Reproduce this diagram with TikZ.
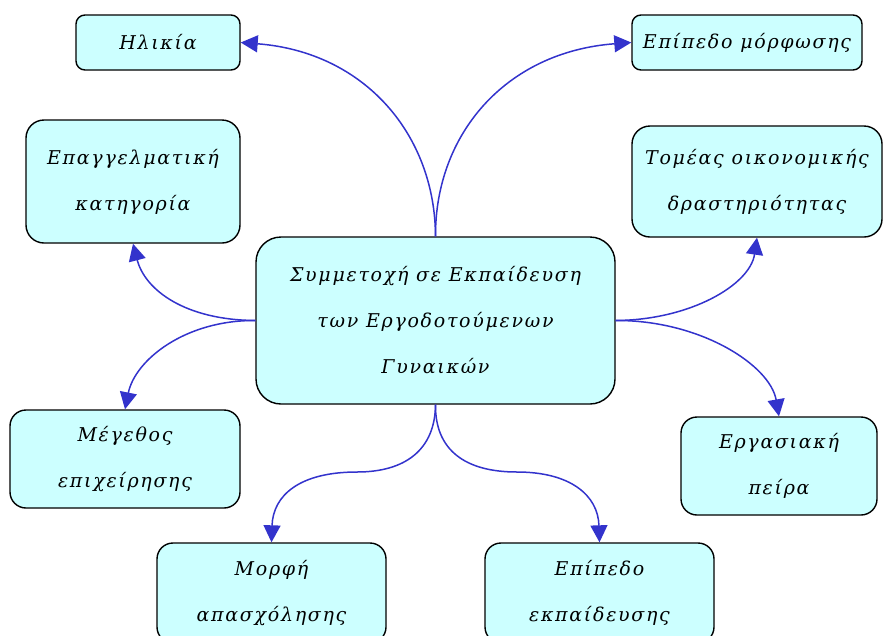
\documentclass[tikz,border=0pt]{standalone}
\usepackage{fontspec}
\newfontfamily\grfont[LetterSpace=9]{DejaVu Serif}
\usetikzlibrary{arrows.meta}
\definecolor{boxfill}{HTML}{CCFFFF}
\definecolor{linkcol}{HTML}{3333CC}
\tikzset{
  box/.style={draw=black, line width=1.4pt, fill=boxfill, inner sep=0pt,
    align=center, font={\grfont\itshape\fontsize{19}{46}\selectfont}},
  link/.style={draw=linkcol, line width=1.5pt,
    -{Triangle[length=17pt,width=17pt]}},
}
\begin{document}
\begin{tikzpicture}[x=1pt,y=-1pt]
\useasboundingbox (0,0) rectangle (883,635);
\node[box, rounded corners=9pt, minimum width=164pt, minimum height=55pt] (age) at (158,42.5) {Ηλικία};
\node[box, rounded corners=9pt, minimum width=230pt, minimum height=55pt] (edu) at (747,42.5) {Επίπεδο μόρφωσης};
\node[box, rounded corners=18pt, minimum width=214pt, minimum height=123pt] (occ) at (133,181.5) {Επαγγελματική\\κατηγορία};
\node[box, rounded corners=18pt, minimum width=250pt, minimum height=111pt] (sec) at (757,181.5) {Τομέας οικονομικής\\δραστηριότητας};
\node[box, rounded corners=25pt, minimum width=359pt, minimum height=167pt] (c) at (435.5,320.5) {Συμμετοχή σε Εκπαίδευση\\των Εργοδοτούμενων\\Γυναικών};
\node[box, rounded corners=16pt, minimum width=230pt, minimum height=98pt] (size) at (125,459) {Μέγεθος\\επιχείρησης};
\node[box, rounded corners=16pt, minimum width=196pt, minimum height=98pt] (exp) at (779,466) {Εργασιακή\\πείρα};
\node[box, rounded corners=16pt, minimum width=229pt, minimum height=100pt] (emp) at (271.5,593) {Μορφή\\απασχόλησης};
\node[box, rounded corners=16pt, minimum width=229pt, minimum height=100pt] (tra) at (599.5,593) {Επίπεδο\\εκπαίδευσης};

\coordinate (ml) at (357,472);
\coordinate (mr) at (517,472);

\draw[link] (c.north) .. controls (435,135) and (365,52) .. (age.east);
\draw[link] (c.north) .. controls (435,135) and (505,52) .. (edu.west);
\draw[link] (c.west) .. controls (185,320) and (145,290) .. (occ.south);
\draw[link] (c.west) .. controls (185,320) and (135,360) .. (size.north);
\draw[link] (c.east) .. controls (690,320) and (750,285) .. (sec.south);
\draw[link] (c.east) .. controls (700,320) and (770,365) .. (exp.north);
\draw[link] (c.south) .. controls (435,450) and (405,472) .. (ml) .. controls (300,472) and (273,495) .. (emp.north);
\draw[link] (c.south) .. controls (435,450) and (465,472) .. (mr) .. controls (570,472) and (598,495) .. (tra.north);
\end{tikzpicture}
\end{document}
